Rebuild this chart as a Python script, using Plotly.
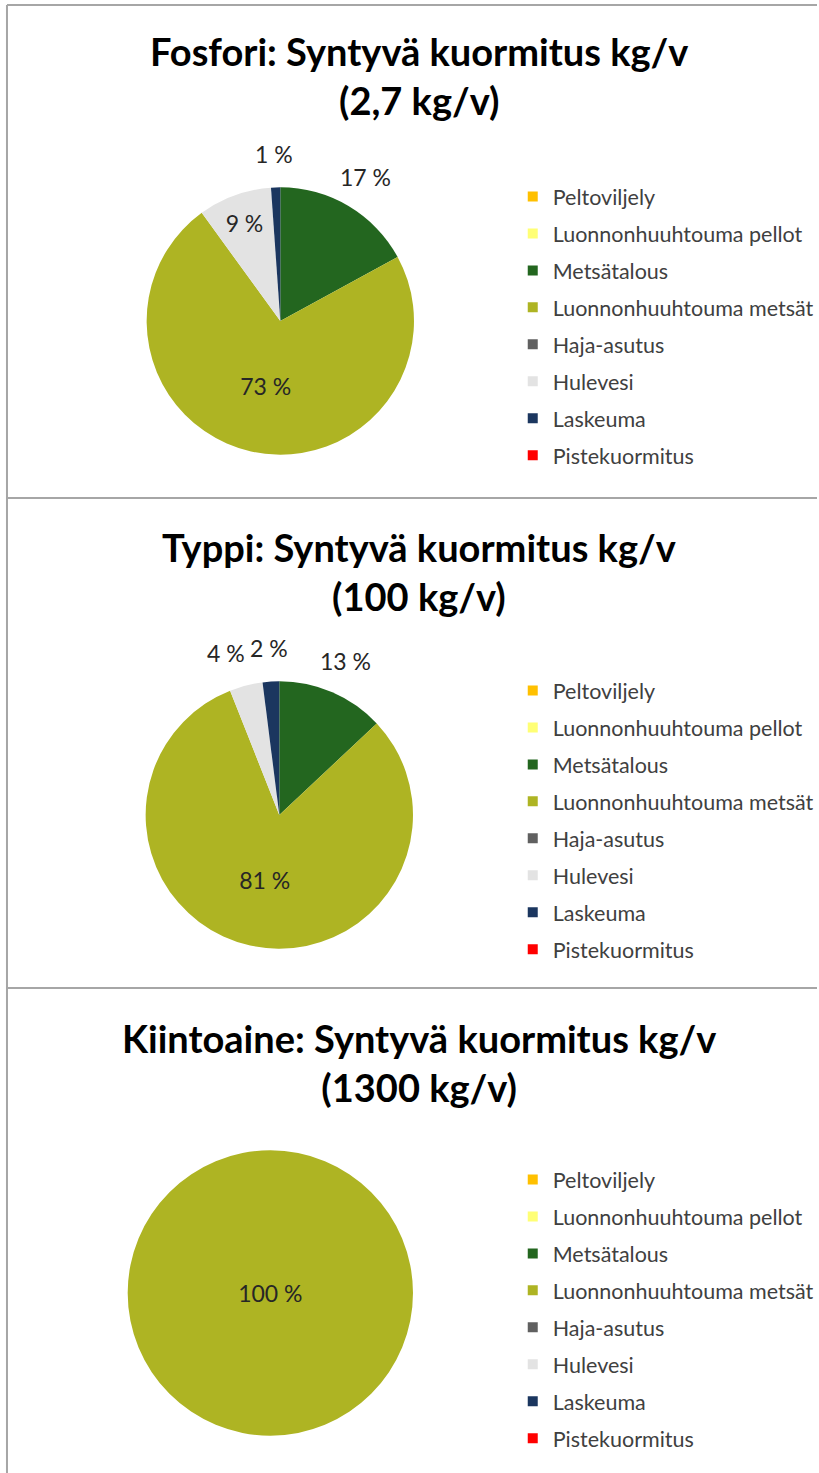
import math
import plotly.graph_objects as go

W, H = 819, 1473

categories = ["Peltoviljely", "Luonnonhuuhtouma pellot", "Metsätalous",
              "Luonnonhuuhtouma metsät", "Haja-asutus", "Hulevesi",
              "Laskeuma", "Pistekuormitus"]
colors = ["#FFC000", "#FFFF75", "#23661F", "#AEB423", "#606060", "#E3E3E3",
          "#1B365F", "#FF0000"]

fosfori = [0, 0, 0.46, 1.97, 0, 0.24, 0.03, 0]       # kg/v, total 2.7
typpi = [0, 0, 13, 81, 0, 4, 2, 0]                   # kg/v, total 100
kiintoaine = [0, 0, 0, 1300, 0, 0, 0, 0]             # kg/v, total 1300

titles = ["Fosfori: Syntyvä kuormitus kg/v<br>(2,7 kg/v)",
          "Typpi: Syntyvä kuormitus kg/v<br>(100 kg/v)",
          "Kiintoaine: Syntyvä kuormitus kg/v<br>(1300 kg/v)"]

# which slice labels sit outside the pie (style)
outside = [
    [False, False, True, False, False, False, True, False],
    [False, False, True, False, False, True, True, False],
    [False] * 8,
]

FONT = "Lato"
LABEL_SIZE = 23


def px_x(v):
    return v / W


def px_y(v):
    return 1 - v / H


def pct_text(vals):
    tot = sum(vals)
    return [f"{round(v / tot * 100)} %" if v > 0 else "" for v in vals]


# pie geometry in pixels: (cx, cy, r)
geoms = [(281, 321, 134), (280, 815, 134), (271, 1293, 143)]
legend_tops = [176, 670, 1159]
title_y = [75, 571, 1062]
seps = [5, 498, 988]

fig = go.Figure()
datasets = [fosfori, typpi, kiintoaine]
legend_names = ["legend", "legend2", "legend3"]
annotations = []

for i, vals in enumerate(datasets):
    cx, cy, r = geoms[i]
    texts = pct_text(vals)
    inside_text = [t if not o else "" for t, o in zip(texts, outside[i])]
    fig.add_trace(go.Pie(
        labels=categories, values=vals, text=inside_text,
        texttemplate="%{text}", textposition="inside",
        insidetextorientation="horizontal",
        textfont=dict(family=FONT, size=LABEL_SIZE, color="#262626"),
        marker=dict(colors=colors, line=dict(width=0)),
        sort=False, direction="clockwise", rotation=0,
        showlegend=False, hoverinfo="label+value+percent",
        domain=dict(x=[px_x(cx - r), px_x(cx + r)],
                    y=[px_y(cy + r), px_y(cy - r)]),
    ))
    # outside labels: placed on each slice's mid-angle, just beyond the rim
    tot = sum(vals)
    cum = 0.0
    labs = []
    for v, t, o in zip(vals, texts, outside[i]):
        mid = (cum + v / 2) / tot * 2 * math.pi
        cum += v
        if o and v > 0:
            R = 1.25 * r
            x = cx + R * math.sin(mid)
            y = cy - R * math.cos(mid)
            w = 0.55 * LABEL_SIZE * len(t)
            labs.append([x, y, w, t])
    # avoid overlaps among neighbouring labels on the left side
    left = sorted([l for l in labs if l[0] < cx], key=lambda l: -l[0])
    for a, b in zip(left, left[1:]):
        if abs(a[1] - b[1]) < LABEL_SIZE:
            need = (a[2] + b[2]) / 2 + 5
            if a[0] - b[0] < need:
                b[0] = a[0] - need
    for x, y, w, t in labs:
        annotations.append(dict(
            text=t, x=px_x(x), y=px_y(y), xref="paper", yref="paper",
            showarrow=False, xanchor="center", yanchor="middle",
            font=dict(family=FONT, size=LABEL_SIZE, color="#262626"),
        ))
    for c, col in zip(categories, colors):
        fig.add_trace(go.Scatter(
            x=[None], y=[None], mode="markers", name=c,
            marker=dict(symbol="square", size=10, color=col),
            legend=legend_names[i], legendgroup=f"{i}-{c}",
            showlegend=True, hoverinfo="skip",
        ))

layout_legends = {}
for i, ln in enumerate(legend_names):
    layout_legends[ln] = dict(
        x=px_x(514), y=px_y(legend_tops[i]), xanchor="left", yanchor="top",
        font=dict(family=FONT, size=21.5, color="#404040"),
        tracegroupgap=6, traceorder="grouped", bgcolor="rgba(0,0,0,0)",
        itemclick=False, itemdoubleclick=False,
    )

for i, t in enumerate(titles):
    annotations.append(dict(
        text=f"<b>{t}</b>", x=px_x(420), y=px_y(title_y[i]),
        xref="paper", yref="paper", showarrow=False,
        font=dict(family=FONT, size=38, color="#000000"),
        xanchor="center", yanchor="middle",
    ))

line_col = "#A6A6A6"
shapes = [dict(type="line", xref="paper", yref="paper",
               x0=px_x(7), x1=px_x(7), y0=0, y1=px_y(5),
               line=dict(color=line_col, width=2))]
for s in seps:
    shapes.append(dict(type="line", xref="paper", yref="paper",
                       x0=px_x(7), x1=1, y0=px_y(s), y1=px_y(s),
                       line=dict(color=line_col, width=2)))

fig.update_layout(
    width=W, height=H, margin=dict(l=0, r=0, t=0, b=0),
    paper_bgcolor="white", plot_bgcolor="white",
    xaxis=dict(visible=False), yaxis=dict(visible=False),
    uniformtext=dict(minsize=LABEL_SIZE, mode="show"),
    annotations=annotations, shapes=shapes,
    **layout_legends,
)

fig.write_html(
    "out.html",
    config={"displayModeBar": False},
    post_script="document.body.style.margin='0';document.body.style.overflow='hidden';",
)
